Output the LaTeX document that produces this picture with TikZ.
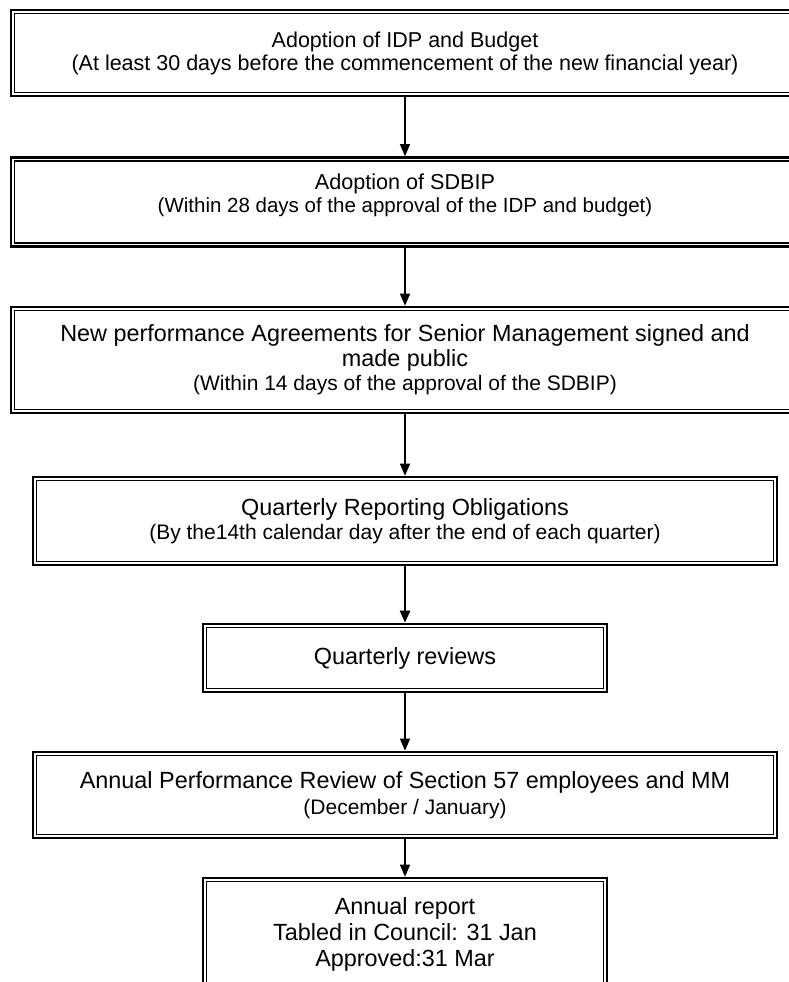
\documentclass[tikz,border=0pt]{standalone}
\usepackage{fontspec}
\setmainfont{Liberation Sans}
\usetikzlibrary{arrows.meta,calc}
% heading line inside a stage box, optional size in pt
\newcommand{\stagehead}[2][23.4]{{\fontsize{#1}{24}\selectfont #2}}
\tikzset{
  stage/.style={draw, line width=2.6pt, inner sep=0pt, align=center,
                font=\fontsize{21}{24.5}\selectfont},
  innerrule/.style={line width=1.5pt},
  flow/.style={line width=1.2pt, -{Triangle[length=12pt,width=10pt]}},
  boldflow/.style={flow, line width=2.2pt},
}
\begin{document}
\begin{tikzpicture}[x=1pt,y=-1pt]
\useasboundingbox (0,0) rectangle (789,982);
\fill[white] (0,0) rectangle (789,982);
\clip (0,0) rectangle (789,982);

% stages of the performance cycle
\node[stage, minimum width=788pt, minimum height=86pt, font=\fontsize{21.5}{23}\selectfont] (b1) at (405,53)
  {\stagehead[21.5]{Adoption of IDP and Budget}\\(At least 30 days before the commencement of the new financial year)};
\node[stage, minimum width=788pt, minimum height=89pt, font=\fontsize{20.5}{23}\selectfont] (b2) at (405,202)
  {\stagehead[21.6]{Adoption of SDBIP}\\(Within 28 days of the approval of the IDP and budget)\\[-12pt]\strut};
\node[stage, minimum width=788pt, minimum height=106pt] (b3) at (405,360)
  {\stagehead{New performance Agreements for Senior Management signed and}\\\stagehead{made public}\\(Within 14 days of the approval of the SDBIP)};
\node[stage, minimum width=744pt, minimum height=88pt, font=\fontsize{21}{24}\selectfont] (b4) at (405,521)
  {\stagehead{Quarterly Reporting Obligations}\\(By the14th calendar day after the end of each quarter)};
\node[stage, minimum width=404pt, minimum height=68pt] (b5) at (405,658)
  {\stagehead{Quarterly reviews}};
\node[stage, minimum width=744pt, minimum height=86pt, font=\fontsize{21}{26}\selectfont] (b6) at (405,795)
  {\stagehead{Annual Performance Review of Section 57 employees and MM}\\(December / January)};
\node[stage, minimum width=404pt, minimum height=112pt, font=\fontsize{23.4}{26}\selectfont] (b7) at (405,934)
  {Annual report\\Tabled in Council: 31 Jan\\Approved:31 Mar};

% inner rule of each double frame
\foreach \n in {b1,b2,b3,b4,b5,b6,b7}
  \draw[innerrule] ($(\n.north west)+(4.6pt,-4.6pt)$) rectangle ($(\n.south east)+(-4.6pt,4.6pt)$);

% connectors
\draw[flow] (b1) -- (b2);
\draw[flow] (b2) -- (b3);
\draw[flow] (b3) -- (b4);
\draw[boldflow] (b4) -- (b5);
\draw[flow] (b5) -- (b6);
\draw[flow] (b6) -- (b7);
\end{tikzpicture}
\end{document}
